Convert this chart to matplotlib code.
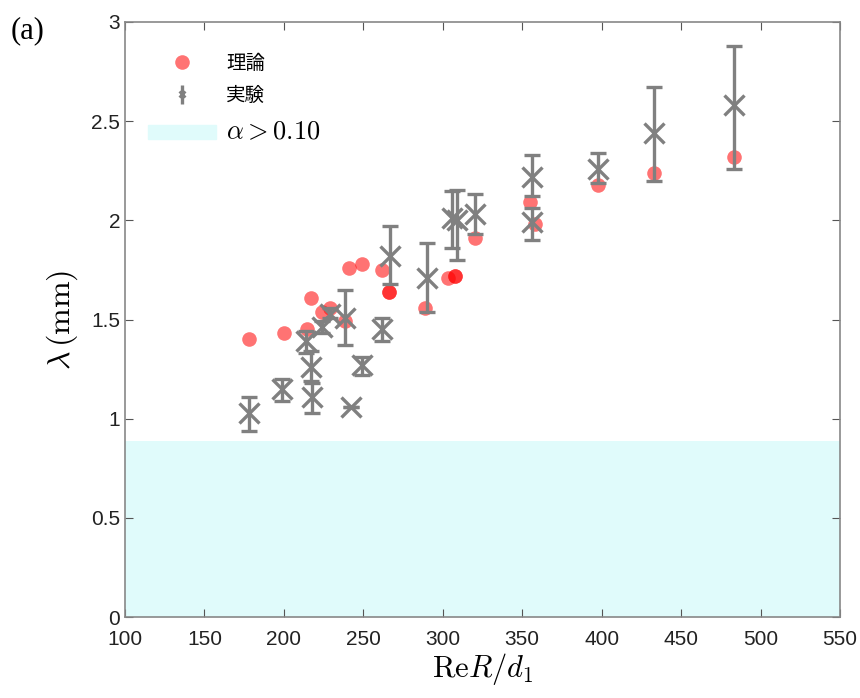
import numpy as np
import matplotlib.pyplot as plt
from matplotlib.patches import Patch
from matplotlib.ticker import FormatStrFormatter

plt.rcParams['font.family'] = ['Liberation Sans', 'Noto Sans CJK JP', 'DejaVu Sans']
plt.rcParams['mathtext.fontset'] = 'cm'

# theory (red dots)
theory_x = [178, 200, 217, 214.5, 224, 229, 238.5, 241, 249, 262, 266, 266,
            289, 303, 308, 308, 320, 355, 358, 398, 433, 483]
theory_y = [1.40, 1.43, 1.61, 1.45, 1.54, 1.56, 1.49, 1.76, 1.78, 1.75, 1.64, 1.64,
            1.56, 1.71, 1.72, 1.72, 1.91, 2.09, 1.98, 2.18, 2.24, 2.32]

# experiment (gray x with error bars)
exp_x = [178, 199, 214, 217, 218, 224, 229, 238.5, 242, 249, 262, 267,
         290, 306, 309, 320, 356, 356, 398, 433, 483]
exp_y = [1.03, 1.15, 1.39, 1.26, 1.11, 1.46, 1.53, 1.51, 1.06, 1.27, 1.45, 1.82,
         1.71, 2.01, 2.00, 2.03, 1.99, 2.22, 2.26, 2.44, 2.58]
exp_lo = [0.94, 1.09, 1.33, 1.19, 1.03, 1.43, 1.51, 1.37, 1.06, 1.22, 1.39, 1.68,
          1.54, 1.86, 1.80, 1.93, 1.90, 2.125, 2.19, 2.20, 2.26]
exp_hi = [1.11, 1.20, 1.44, 1.34, 1.18, 1.49, 1.56, 1.65, 1.06, 1.31, 1.51, 1.97,
          1.885, 2.15, 2.155, 2.135, 2.06, 2.33, 2.34, 2.67, 2.88]

alpha_limit = 0.89  # lambda below which alpha > 0.10

exp_y = np.array(exp_y)
yerr = [exp_y - np.array(exp_lo), np.array(exp_hi) - exp_y]

fig = plt.figure(figsize=(8.6, 6.98), dpi=100)
ax = fig.add_axes([0.1453, 0.116, 0.8314, 0.8525])

ax.axhspan(0, alpha_limit, color='#e0fbfb', zorder=0, lw=0)
ax.plot(theory_x, theory_y, 'o', color='red', alpha=0.55, ms=10.5, mec='none', zorder=2)
ax.errorbar(exp_x, exp_y, yerr=yerr, fmt='x', color='#808080', ms=14, mew=2.4,
            elinewidth=2.4, capsize=6, capthick=2.4, zorder=3)

# legend handles
h1 = plt.Line2D([], [], marker='o', ls='none', color='red', alpha=0.55, ms=10.5, mec='none')
h2 = ax.errorbar([], [], yerr=[], fmt='x', color='#808080', ms=5, mew=2,
                 elinewidth=2.4, capsize=4, capthick=2.4)
h3 = Patch(color='#e0fbfb')
leg = ax.legend([h1, h2, h3], ['理論', '実験', r'$\alpha > 0.10$'],
                loc='upper left', bbox_to_anchor=(0.008, 0.978), frameon=False,
                prop={'family': ['Noto Sans CJK JP', 'DejaVu Sans'], 'size': 14},
                handlelength=3.5, handletextpad=0.5, labelspacing=0.6)
leg.get_texts()[2].set_fontsize(19)

ax.set_xlim(100, 550)
ax.set_ylim(0, 3)
ax.set_xticks(np.arange(100, 551, 50))
ax.set_yticks(np.arange(0, 3.01, 0.5))
ax.yaxis.set_major_formatter(FormatStrFormatter('%g'))
ax.tick_params(direction='in', top=True, right=True, labelsize=15, length=6,
               color='#555555', labelcolor='#222222')
ax.tick_params(axis='x', pad=9)
for s in ax.spines.values():
    s.set_color('#888888')
    s.set_linewidth(1.2)

ax.set_xlabel(r'$\mathrm{Re}R/d_1$', fontsize=22, labelpad=2)
ax.set_ylabel(r'$\lambda\,(\mathrm{mm})$', fontsize=23, labelpad=8)
fig.text(0.012, 0.945, '(a)', family='Liberation Serif', fontsize=22)

fig.savefig('out.png', dpi=100)
